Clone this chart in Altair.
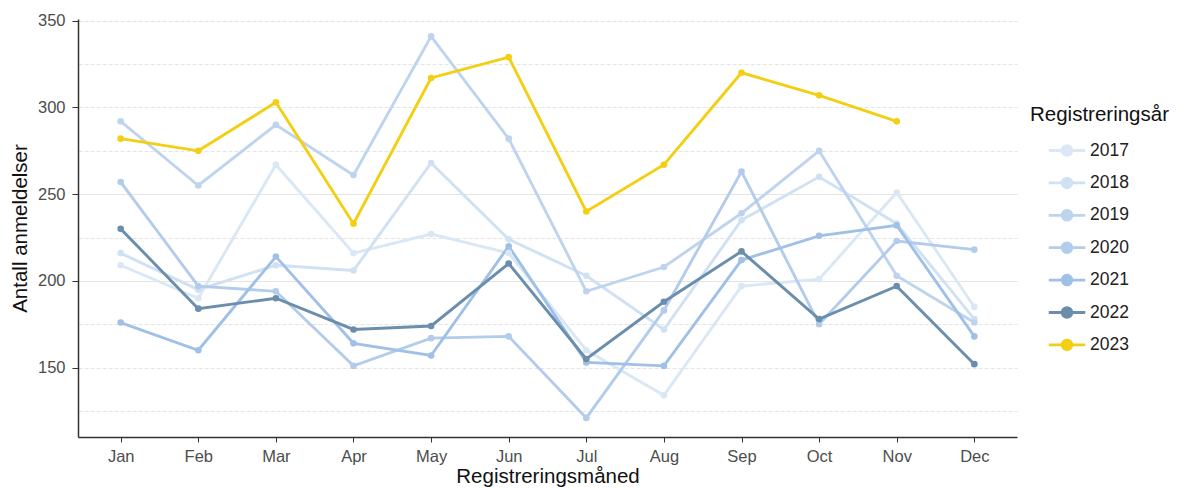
import altair as alt
import pandas as pd

months = ["Jan", "Feb", "Mar", "Apr", "May", "Jun", "Jul", "Aug", "Sep", "Oct", "Nov", "Dec"]
years = ["2017", "2018", "2019", "2020", "2021", "2022", "2023"]

y2017 = [209, 190, 267, 216, 227, 216, 160, 134, 197, 201, 251, 185]
y2018 = [216, 195, 209, 206, 268, 224, 203, 172, 235, 260, 233, 178]
y2019 = [292, 255, 290, 261, 341, 282, 194, 208, 239, 275, 203, 176]
y2020 = [257, 197, 194, 151, 167, 168, 121, 183, 263, 175, 223, 218]
y2021 = [176, 160, 214, 164, 157, 220, 153, 151, 212, 226, 232, 168]
y2022 = [230, 184, 190, 172, 174, 210, 155, 188, 217, 178, 197, 152]
y2023 = [282, 275, 303, 233, 317, 329, 240, 267, 320, 307, 292, None]
series = [y2017, y2018, y2019, y2020, y2021, y2022, y2023]

colors = ["#dae7f5", "#d0e1f3", "#bed4ee", "#b3cceb", "#a0c0e6", "#6b8ead", "#f3cf14"]

rows = []
for yr, vals in zip(years, series):
    for m, v in zip(months, vals):
        if v is not None:
            rows.append({"month": m, "year": yr, "value": v})
df = pd.DataFrame(rows)

FONT = "Liberation Sans"

x = alt.X(
    "month:O",
    sort=months,
    scale=alt.Scale(type="point", padding=0.55),
    axis=alt.Axis(title="Registreringsmåned", labelAngle=0, tickSize=5,
                  labelPadding=6, titlePadding=2, grid=False),
)
y = alt.Y(
    "value:Q",
    scale=alt.Scale(domain=[110, 351], nice=False, zero=False),
    axis=alt.Axis(
        title="Antall anmeldelser",
        values=list(range(125, 351, 25)),
        labelExpr="datum.value % 50 === 0 ? datum.label : ''",
        tickOpacity={"condition": {"test": "datum.value % 50 === 0", "value": 1}, "value": 0},
        gridDash={"condition": {"test": "datum.value === 200 || datum.value === 250", "value": []}, "value": [4, 2]},
        grid=True,
        tickSize=6,
        labelPadding=7,
        titlePadding=7,
    ),
)
symbol_path = "M-1.35,0H1.35M-0.36,0A0.36,0.36 0 1 1 0.36,0A0.36,0.36 0 1 1 -0.36,0Z"
color = alt.Color(
    "year:N",
    scale=alt.Scale(domain=years, range=colors),
    legend=alt.Legend(
        title="Registreringsår",
        orient="none",
        legendX=952,
        legendY=86,
        symbolType=symbol_path,
        symbolSize=729,
        symbolStrokeWidth=2.8,
        symbolOffset=22,
        labelOffset=8,
        rowPadding=6.4,
        titlePadding=10,
    ),
)

base = alt.Chart(df).encode(x=x, y=y, color=color)
lines = base.mark_line(strokeWidth=2.9)
points = base.mark_circle(size=44, opacity=1)

chart = (
    alt.layer(lines, points)
    .properties(
        width=939,
        height=418,
        padding={"left": 70, "top": 11, "right": 164, "bottom": 52},
        autosize=alt.AutoSizeParams(type="none"),
    )
    .configure_view(stroke=None)
    .configure_axis(
        labelFont=FONT, titleFont=FONT, labelFontSize=16.5, titleFontSize=20.5,
        titleFontWeight="normal", labelColor="#4d4d4d", titleColor="#111111",
        domainColor="#333333", domainWidth=1.5, tickColor="#333333",
        gridColor="#e4e4e4", gridWidth=1,
    )
    .configure_legend(
        labelFont=FONT, titleFont=FONT, labelFontSize=17.5, titleFontSize=20.5,
        titleFontWeight="normal", labelColor="#222222", titleColor="#111111",
    )
)

chart.save("out.html", embed_options={"renderer": "svg", "actions": False})
